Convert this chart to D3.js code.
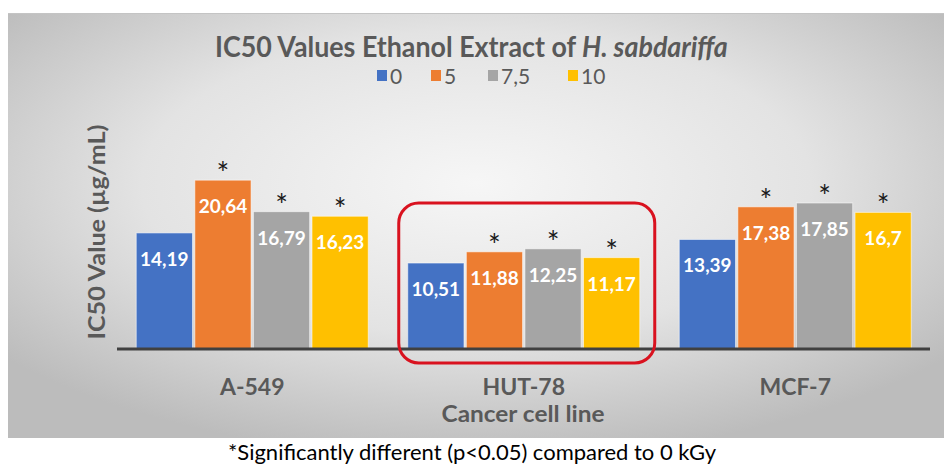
<!DOCTYPE html>
<html>
<head>
<meta charset="utf-8">
<script src="https://cdn.jsdelivr.net/npm/d3@7"></script>
<style>
  body { margin: 0; background: #fff; }
  svg { display: block; font-family: Lato, "Open Sans", sans-serif; }
</style>
</head>
<body>
<svg></svg>
<script>
var categories = ["A-549", "HUT-78", "MCF-7"];
var series = ["0", "5", "7,5", "10"];
var colors = ["#4472C4", "#ED7D31", "#A5A5A5", "#FFC000"];
var values0 = [14.19, 10.51, 13.39];
var values5 = [20.64, 11.88, 17.38];
var values75 = [16.79, 12.25, 17.85];
var values10 = [16.23, 11.17, 16.7];
// significant vs 0 kGy
var significant = [false, true, true, true];

var allValues = [values0, values5, values75, values10];

var svgWidth = 944;
var svgHeight = 468;
var baseline = 349;

var svg = d3.select("svg")
    .attr("width", svgWidth)
    .attr("height", svgHeight);

// background panel with grey radial gradient
var defs = svg.append("defs");
var grad = defs.append("radialGradient")
    .attr("id", "bg")
    .attr("cx", "50%").attr("cy", "40%").attr("r", "65%");
grad.append("stop").attr("offset", "0%").attr("stop-color", "#f6f6f6");
grad.append("stop").attr("offset", "55%").attr("stop-color", "#e3e3e3");
grad.append("stop").attr("offset", "100%").attr("stop-color", "#bcbcbc");

svg.append("rect")
    .attr("x", 8).attr("y", 13)
    .attr("width", svgWidth - 8).attr("height", 425)
    .attr("fill", "url(#bg)");
svg.append("line")
    .attr("x1", 8).attr("x2", svgWidth)
    .attr("y1", 13.5).attr("y2", 13.5)
    .attr("stroke", "#c4c4c4").attr("stroke-width", 1);

var x0 = d3.scaleBand()
    .domain(categories)
    .range([116.5, 931])
    .paddingInner(0.1455)
    .paddingOuter(0.0727);

var x1 = d3.scaleBand()
    .domain(series)
    .range([0, x0.bandwidth()])
    .paddingInner(0.04);

var yScale = d3.scaleLinear()
    .domain([0, 25])
    .range([baseline, baseline - 204.5]);

// title (squeezed horizontally to the narrower look of the original font)
var title = svg.append("text")
    .attr("font-size", 29)
    .attr("font-weight", "bold")
    .attr("fill", "#595959");
title.append("tspan").text("IC50 Values Ethanol Extract of ");
title.append("tspan").attr("font-style", "italic").text("H. sabdariffa");
var titleW = title.node().getComputedTextLength();
title.attr("transform", "translate(215,57) scale(" + (513 / titleW) + ",1)");

// legend
var legendX = [377, 431, 488, 568];
var legend = svg.selectAll(".legend")
    .data(series)
    .enter()
    .append("g")
    .attr("transform", function(d, i) { return "translate(" + legendX[i] + ",76)"; });
legend.append("rect")
    .attr("x", 0).attr("y", -6)
    .attr("width", 10).attr("height", 11)
    .attr("fill", function(d, i) { return colors[i]; });
legend.append("text")
    .attr("x", 13).attr("y", 8)
    .attr("font-size", 21)
    .attr("fill", "#595959")
    .text(function(d) { return d; });

// bars
var groups = svg.selectAll(".group")
    .data(categories)
    .enter()
    .append("g")
    .attr("transform", function(d) { return "translate(" + x0(d) + ",0)"; });

var cells = groups.selectAll(".cell")
    .data(function(d, ci) {
        return series.map(function(s, si) {
            return { s: s, si: si, v: allValues[si][ci] };
        });
    })
    .enter()
    .append("g");

cells.append("rect")
    .attr("x", function(d) { return x1(d.s); })
    .attr("y", function(d) { return yScale(d.v); })
    .attr("width", x1.bandwidth())
    .attr("height", function(d) { return baseline - yScale(d.v); })
    .attr("fill", function(d) { return colors[d.si]; })
    .attr("stroke", "rgba(255,255,255,0.55)")
    .attr("stroke-width", 1);

cells.append("text")
    .attr("x", function(d) { return x1(d.s) + x1.bandwidth() / 2; })
    .attr("y", function(d) { return yScale(d.v) + 33; })
    .attr("text-anchor", "middle")
    .attr("font-size", 19)
    .attr("font-weight", "bold")
    .attr("fill", "#fff")
    .text(function(d) { return String(d.v).replace(".", ","); });

cells.filter(function(d) { return significant[d.si]; })
    .append("text")
    .attr("x", function(d) { return x1(d.s) + x1.bandwidth() / 2; })
    .attr("y", function(d) { return yScale(d.v) + 4; })
    .attr("text-anchor", "middle")
    .attr("font-size", 30)
    .attr("fill", "#1a1a1a")
    .text("*");

// x axis
var xAxis = d3.axisBottom(x0).tickSize(0).tickPadding(30);
var gx = svg.append("g")
    .attr("transform", "translate(0," + baseline + ")")
    .call(xAxis);
gx.select(".domain")
    .attr("d", "M117,0H930")
    .attr("stroke", "#404040")
    .attr("stroke-width", 3);
gx.selectAll("text")
    .attr("font-family", "Lato, 'Open Sans', sans-serif")
    .attr("font-size", 23)
    .attr("font-weight", "bold")
    .attr("fill", "#595959");

// axis titles
svg.append("text")
    .attr("x", 523).attr("y", 422)
    .attr("text-anchor", "middle")
    .attr("font-size", 23)
    .attr("font-weight", "bold")
    .attr("fill", "#595959")
    .attr("textLength", 163)
    .attr("lengthAdjust", "spacingAndGlyphs")
    .text("Cancer cell line");

svg.append("text")
    .attr("transform", "translate(105,232) rotate(-90)")
    .attr("text-anchor", "middle")
    .attr("font-size", 22)
    .attr("font-weight", "bold")
    .attr("fill", "#595959")
    .attr("textLength", 215)
    .attr("lengthAdjust", "spacingAndGlyphs")
    .text("IC50 Value (µg/mL)");

// highlight around HUT-78
var hx = x0("HUT-78");
svg.append("rect")
    .attr("x", hx - 9)
    .attr("y", 203)
    .attr("width", x0.bandwidth() + 24)
    .attr("height", 160)
    .attr("rx", 20)
    .attr("fill", "none")
    .attr("stroke", "#d9121f")
    .attr("stroke-width", 3);

// footnote
svg.append("text")
    .attr("x", 472).attr("y", 460)
    .attr("text-anchor", "middle")
    .attr("font-size", 21)
    .attr("fill", "#000")
    .attr("textLength", 488)
    .attr("lengthAdjust", "spacingAndGlyphs")
    .text("*Significantly different (p<0.05) compared to 0 kGy");
</script>
</body>
</html>
